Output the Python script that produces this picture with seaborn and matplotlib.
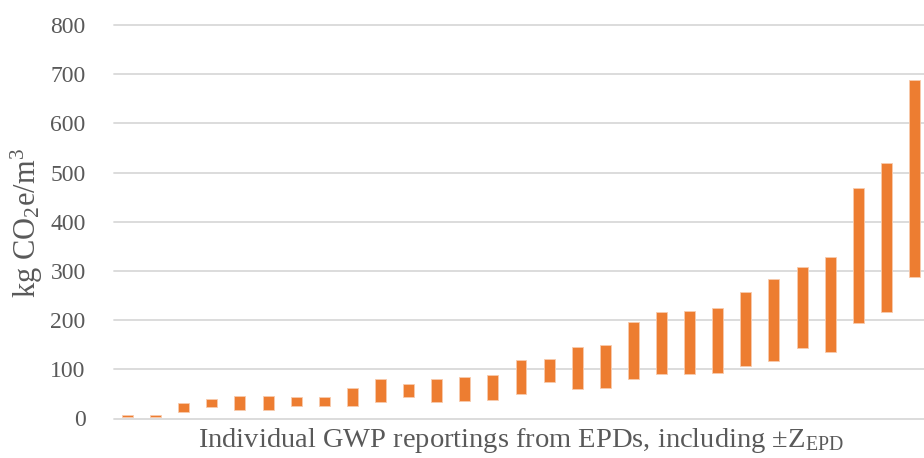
import numpy as np
import pandas as pd
import seaborn as sns
import matplotlib.pyplot as plt

# GWP range per EPD (kg CO2e/m3), lower and upper end of the bar (±Z_EPD)
epd = [f"EPD {i}" for i in range(1, 30)]
low = [3, 4, 13, 24, 18, 18, 26, 26, 26, 33, 44, 34, 35, 37, 50, 75, 60, 62,
       81, 90, 91, 93, 107, 117, 144, 136, 194, 216, 287]
high = [7, 8, 32, 40, 45, 45, 43, 43, 62, 80, 70, 81, 84, 89, 119, 120, 146, 150,
        197, 216, 219, 225, 258, 284, 307, 329, 468, 519, 689]
yticks = [0, 100, 200, 300, 400, 500, 600, 700, 800]

df = pd.DataFrame({"EPD": epd, "low": low, "high": high})
df["span"] = df["high"] - df["low"]

sns.set_style("white")
plt.rcParams["font.family"] = ["Liberation Serif", "DejaVu Serif"]
plt.rcParams["mathtext.fontset"] = "custom"
plt.rcParams["mathtext.rm"] = "Liberation Serif"
plt.rcParams["mathtext.it"] = "Liberation Serif:italic"

fig = plt.figure(figsize=(9.24, 4.58), dpi=100)
ax = fig.add_axes([113.5 / 924, 39.5 / 458, 815 / 924, 393.5 / 458])

sns.barplot(data=df, x="EPD", y="span", bottom=df["low"], color="#ED7D31",
            saturation=1, width=0.39, edgecolor="#F8CBAD", linewidth=0.6,
            ax=ax, zorder=3)

ax.set_ylim(0, 800)
ax.set_yticks(yticks)
ax.set_xticks([])
ax.yaxis.grid(True, color="#D9D9D9", linewidth=1.3)
for g in ax.get_ygridlines():
    g.set_clip_on(False)
ax.set_axisbelow(True)
sns.despine(ax=ax, left=True, bottom=True)
ax.tick_params(axis="y", length=0, pad=20, labelsize=17, labelcolor="#595959")

ax.set_ylabel("kg CO$_2$e/m$^3$", fontsize=22, color="#595959")
ax.yaxis.set_label_coords(-0.084, 0.496)
ax.set_xlabel("Individual GWP reportings from EPDs, including ±$\\mathrm{Z_{EPD}}$",
              fontsize=20.5, color="#595959")
ax.xaxis.set_label_coords(0.5, -0.018)

fig.savefig("out.png", dpi=100)
